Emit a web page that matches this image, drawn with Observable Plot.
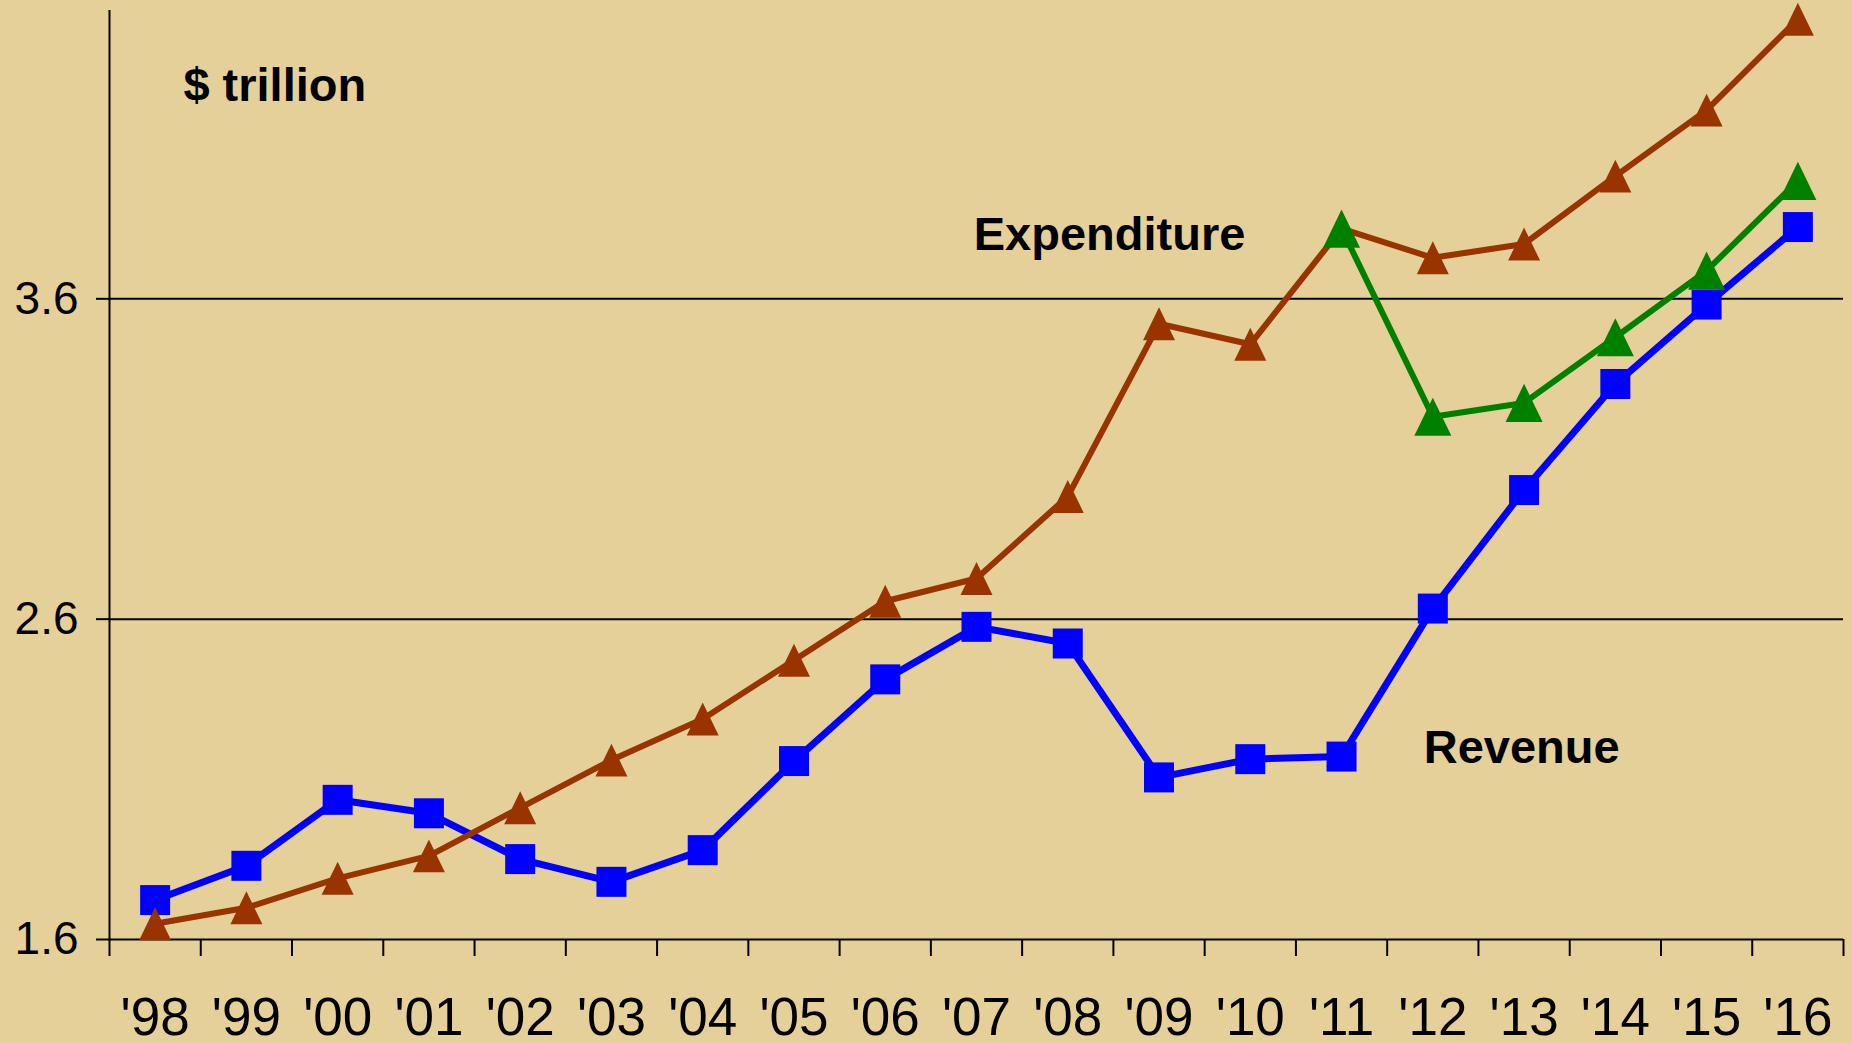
<!DOCTYPE html>
<html>
<head>
<meta charset="utf-8">
<script src="https://cdn.jsdelivr.net/npm/d3@7"></script>
<script src="https://cdn.jsdelivr.net/npm/@observablehq/plot@0.6"></script>
<style>
  html, body { margin: 0; padding: 0; background: #E5D09A; }
  #chart svg { display: block; }
</style>
</head>
<body>
<div id="chart"></div>
<script>
// ---- data ----
const years = [1998, 1999, 2000, 2001, 2002, 2003, 2004, 2005, 2006, 2007, 2008, 2009, 2010, 2011, 2012, 2013, 2014, 2015, 2016];
const yearLabels = ["'98", "'99", "'00", "'01", "'02", "'03", "'04", "'05", "'06", "'07", "'08", "'09", "'10", "'11", "'12", "'13", "'14", "'15", "'16"];
const revenue = [1.723, 1.830, 2.036, 1.994, 1.851, 1.780, 1.879, 2.157, 2.412, 2.576, 2.524, 2.106, 2.163, 2.171, 2.633, 3.003, 3.334, 3.582, 3.824];
const expenditure = [1.649, 1.699, 1.791, 1.861, 2.011, 2.160, 2.288, 2.472, 2.656, 2.727, 2.983, 3.522, 3.458, 3.819, 3.728, 3.771, 3.983, 4.189, 4.473];
const projYears = [2011, 2012, 2013, 2014, 2015, 2016];
const projected = [3.819, 3.232, 3.275, 3.480, 3.688, 3.968];
const yTicks = [1.6, 2.6, 3.6];
const unitLabel = "$ trillion";
const expLabel = "Expenditure";
const revLabel = "Revenue";

// ---- tables ----
const rev = years.map((y, i) => ({year: y, value: revenue[i]}));
const exp = years.map((y, i) => ({year: y, value: expenditure[i]}));
const proj = projYears.map((y, i) => ({year: y, value: projected[i]}));
const boundaries = d3.range(years.length + 1).map(i => years[0] - 0.5 + i);

// ---- marker symbols ----
const square = {draw(ctx, size) { const r = Math.sqrt(size / Math.PI); ctx.rect(-r, -r, 2 * r, 2 * r); }};
const triangle = {draw(ctx, size) {
  const r = Math.sqrt(size / Math.PI), h = r * 1.03;
  ctx.moveTo(0, -h); ctx.lineTo(r, h); ctx.lineTo(-r, h); ctx.closePath();
}};

const font = "'Liberation Sans', Arial, Helvetica, sans-serif";

const chart = Plot.plot({
  width: 1852,
  height: 1043,
  marginLeft: 109,
  marginRight: 9,
  marginTop: 10,
  marginBottom: 104,
  style: {background: "#E5D09A", fontFamily: font, color: "#000", overflow: "visible"},
  x: {domain: [years[0] - 0.5, years[years.length - 1] + 0.5], label: null},
  y: {domain: [1.6, 4.5], label: null},
  marks: [
    Plot.gridY(yTicks.slice(1), {stroke: "#000", strokeOpacity: 1, strokeWidth: 2}),
    Plot.axisY(yTicks, {tickSize: 13, tickPadding: 18, fontSize: 46, strokeWidth: 2, stroke: "#000", label: null, tickFormat: d => d.toFixed(1)}),
    Plot.axisX(boundaries, {tickSize: 17, strokeWidth: 2, stroke: "#000", label: null, tickFormat: () => ""}),
    Plot.axisX(years, {tickSize: 0, tickPadding: 58, fontSize: 53, label: null, tickFormat: d => yearLabels[years.indexOf(d)]}),
    Plot.ruleX([years[0] - 0.5], {stroke: "#000", strokeWidth: 2}),
    Plot.ruleY([1.6], {stroke: "#000", strokeWidth: 2}),
    Plot.line(rev, {x: "year", y: "value", stroke: "#0000FF", strokeWidth: 7}),
    Plot.dot(rev, {x: "year", y: "value", symbol: square, r: 15, fill: "#0000FF", stroke: "none"}),
    Plot.line(exp, {x: "year", y: "value", stroke: "#993300", strokeWidth: 6}),
    Plot.dot(exp, {x: "year", y: "value", symbol: triangle, r: 16, fill: "#993300", stroke: "none"}),
    Plot.line(proj, {x: "year", y: "value", stroke: "#008000", strokeWidth: 6}),
    Plot.dot(proj, {x: "year", y: "value", symbol: triangle, r: 18.5, fill: "#008000", stroke: "none"}),
    Plot.text([unitLabel], {x: 1998.31, y: 4.219, text: d => d, textAnchor: "start", lineAnchor: "bottom", fontSize: 47, fontWeight: "bold", fill: "#000"}),
    Plot.text([expLabel], {x: 2006.97, y: 3.751, text: d => d, textAnchor: "start", lineAnchor: "bottom", fontSize: 47, fontWeight: "bold", fill: "#000"}),
    Plot.text([revLabel], {x: 2011.9, y: 2.151, text: d => d, textAnchor: "start", lineAnchor: "bottom", fontSize: 47, fontWeight: "bold", fill: "#000"})
  ]
});

document.getElementById("chart").appendChild(chart);
</script>
</body>
</html>
